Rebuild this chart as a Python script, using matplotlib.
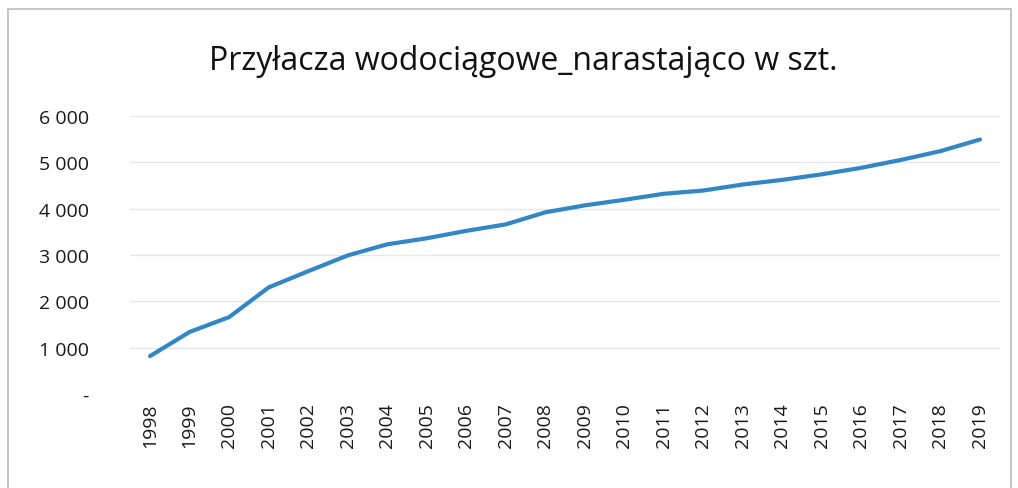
import matplotlib
matplotlib.use("Agg")
import matplotlib.pyplot as plt
from matplotlib.patches import Rectangle

years = [str(y) for y in range(1998, 2020)]
values = [820, 1340, 1660, 2300, 2650, 2990, 3230, 3360, 3520, 3660, 3920, 4070,
          4190, 4320, 4390, 4520, 4620, 4740, 4880, 5050, 5240, 5490]
yticks = [0, 1000, 2000, 3000, 4000, 5000, 6000]
ytick_labels = ["-", "1 000", "2 000", "3 000", "4 000", "5 000", "6 000"]
title = "Przyłacza wodociągowe_narastająco w szt."

plt.rcParams['font.family'] = ['Open Sans', 'DejaVu Sans']

fig = plt.figure(figsize=(10.18, 4.89), dpi=100)
ax = fig.add_axes([0.128, 0.192, 0.854, 0.569])

x = list(range(len(years)))
ax.plot(x, values, color="#3187C4", linewidth=3.0, solid_capstyle="round")

ax.set_xlim(-0.5, len(years) - 0.5)
ax.set_ylim(0, 6000)
ax.set_yticks(yticks)
ax.set_yticklabels(ytick_labels, fontsize=14, color="#1a1a1a")
ax.set_xticks(x)
ax.set_xticklabels(years, rotation=90, fontsize=14, color="#1a1a1a")
ax.tick_params(axis='y', length=0, pad=30)
ax.tick_params(axis='x', length=0, pad=6)
ax.grid(axis='y', color="#E6E6E6", linewidth=1)
ax.set_axisbelow(True)
for s in ax.spines.values():
    s.set_visible(False)

fig.text(0.514, 0.875, title, ha="center", va="center", fontsize=23, color="#111111")

fig.patches.append(Rectangle((0.008, -0.02), 0.985, 1.0, transform=fig.transFigure,
                             fill=False, edgecolor="#BBBBBB", linewidth=1.2))

fig.savefig("out.png", dpi=100)
